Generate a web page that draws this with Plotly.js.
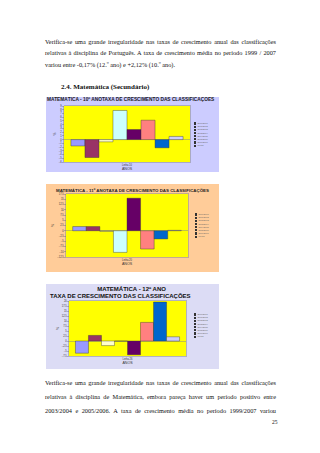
<!DOCTYPE html>
<html><head><meta charset="utf-8">
<script src="https://cdn.plot.ly/plotly-3.0.1.min.js"></script>
<style>
body{margin:0;width:320px;height:453px;background:#fff;position:relative;overflow:hidden;font-family:"Liberation Serif","Times New Roman",serif;color:#111;}
.ln{position:absolute;left:45px;width:231px;font-size:6.3px;line-height:8px;text-align:justify;text-align-last:justify;}
.ln.last{text-align-last:left;}
.chart{position:absolute;left:46px;width:173px;box-sizing:border-box;}
.leg{position:absolute;font-family:"Liberation Sans",Arial,sans-serif;font-size:2.2px;color:#666;line-height:3.2px;}
.leg div{white-space:nowrap;height:3.2px;}
.leg span.sw{display:inline-block;width:2.4px;height:2.2px;border:0.3px solid #333;margin-right:1px;vertical-align:middle;box-sizing:border-box;}
</style></head>
<body>
<div class="ln" style="top:38px">Verifica-se uma grande irregularidade nas taxas de crescimento anual das classificações</div>
<div class="ln" style="top:49px">relativas à disciplina de Português. A taxa de crescimento média no período 1999 / 2007</div>
<div class="ln last" style="top:61px">variou entre -0,17% (12.º ano) e +2,12% (10.º ano).</div>
<div style="position:absolute;left:61px;top:83px;font-size:7px;font-weight:bold;">2.4. Matemática (Secundário)</div>

<div id="c1" class="chart" style="top:97px;height:75px;"></div>
<div id="l1" class="leg" style="left:194px;top:122px;"></div>
<div id="c2" class="chart" style="top:184px;height:88px;"></div>
<div id="l2" class="leg" style="left:195px;top:213px;"></div>
<div id="c3" class="chart" style="top:284px;height:85px;"></div>
<div id="l3" class="leg" style="left:194px;top:313px;"></div>

<div class="ln" style="top:379px">Verifica-se uma grande irregularidade nas taxas de crescimento anual das classificações</div>
<div class="ln" style="top:393px">relativas à disciplina de Matemática, embora pareça haver um período positivo entre</div>
<div class="ln" style="top:407px">2003/2004 e 2005/2006. A taxa de crescimento média no período 1999/2007 variou</div>
<div style="position:absolute;left:272px;top:419px;font-size:5.5px;">25</div>

<script>
const seriesNames = ['2000/2001','2001/2002','2002/2003','2003/2004','2004/2005','2005/2006','2006/2007','Média'];
const seriesColors = ['#9999FF','#993366','#FFFFCC','#CCFFFF','#660066','#FF8080','#0066CC','#CCCCFF'];
const mat10 = [-1.7,-4.8,-0.6,7.8,2.7,5.2,-2.2,0.85];
const mat11 = [2.0,2.0,-0.3,-10.3,15.5,-8.7,-3.9,0.2];
const mat12 = [-6.1,2.8,-2.3,0.0,-6.9,9.3,19.5,2.1];
const cat10 = ['Linha 10'];
const cat11 = ['Linha 20'];
const cat12 = ['Linha 26'];

const SANS = '"Liberation Sans", Arial, sans-serif';

function traces(vals, cat){
  return vals.map((v,i)=>({type:'bar', x:cat, y:[v], name:seriesNames[i],
    marker:{color:seriesColors[i], line:{color:'#333', width:0.4}}}));
}
function legend(id){
  const el=document.getElementById(id);
  el.innerHTML = seriesNames.map((n,i)=>'<div><span class="sw" style="background:'+seriesColors[i]+'"></span>'+n+'</div>').join('');
}
function axes(range, dtick){
  return {
    xaxis:{type:'category', tickfont:{size:2.6, family:SANS, color:'#333'}, ticks:'', showline:true, linecolor:'#888', linewidth:0.5, mirror:true,
      title:{text:'ANOS', font:{size:3.6, family:SANS, color:'#333'}, standoff:1}, automargin:false},
    yaxis:{range:range, dtick:dtick, tickfont:{size:2.6, family:SANS, color:'#333'}, ticks:'outside', ticklen:1.2, tickwidth:0.4, tickcolor:'#666',
      showline:true, linecolor:'#888', linewidth:0.5, mirror:true, showgrid:false,
      zeroline:true, zerolinecolor:'#888', zerolinewidth:0.5,
      title:{text:'%', font:{size:3.5, family:SANS, color:'#333'}, standoff:2}, automargin:false}
  };
}
const cfg={staticPlot:true, displayModeBar:false};

// Chart 1
const L1 = Object.assign({
  width:173, height:75, paper_bgcolor:'#CCCCFF', plot_bgcolor:'#FFFF00',
  margin:{l:18,r:29,t:8.5,b:10}, showlegend:false, barmode:'group', bargap:0.11, bargroupgap:0,
  title:{text:'MATEMÁTICA - 10º ANOTAXA DE CRESCIMENTO DAS CLASSIFICAÇÕES', font:{size:4.8, family:SANS, color:'#222', weight:'bold'},
    x:0.006, xanchor:'left', xref:'container', y:0.965, yanchor:'middle', yref:'container'}
}, axes([-6,9],1));
Plotly.newPlot('c1', traces(mat10, cat10), L1, cfg);
legend('l1');

// Chart 2
const L2 = Object.assign({
  width:173, height:88, paper_bgcolor:'#FFCC99', plot_bgcolor:'#FFFF00',
  margin:{l:20,r:31,t:10,b:14.5}, showlegend:false, barmode:'group', bargap:0.11, bargroupgap:0,
  title:{text:'MATEMÁTICA - 11º ANOTAXA DE CRESCIMENTO DAS CLASSIFICAÇÕES', font:{size:4.4, family:SANS, color:'#222', weight:'bold'},
    x:0.5, xanchor:'center', xref:'container', y:0.932, yanchor:'middle', yref:'container'}
}, axes([-12.5,17.5],2.5));
Plotly.newPlot('c2', traces(mat11, cat11), L2, cfg);
legend('l2');

// Chart 3
const L3 = Object.assign({
  width:173, height:85, paper_bgcolor:'#DCDCF5', plot_bgcolor:'#FFFF00',
  margin:{l:23,r:33,t:16.7,b:13}, showlegend:false, barmode:'group', bargap:0.11, bargroupgap:0,
  title:{text:'MATEMÁTICA - 12º ANO', font:{size:6, family:SANS, color:'#111', weight:'bold'},
    x:0.495, xanchor:'center', xref:'container', y:1-5/85, yanchor:'middle', yref:'container'},
  annotations:[{text:'TAXA DE CRESCIMENTO DAS CLASSIFICAÇÕES', showarrow:false, xref:'paper', yref:'paper',
    x:0.44, y:1+5.5/55.3, xanchor:'center', yanchor:'middle', font:{size:6, family:SANS, color:'#111', weight:'bold'}}]
}, axes([-7.5,20],2.5));
Plotly.newPlot('c3', traces(mat12, cat12), L3, cfg);
legend('l3');
</script>
</body></html>
